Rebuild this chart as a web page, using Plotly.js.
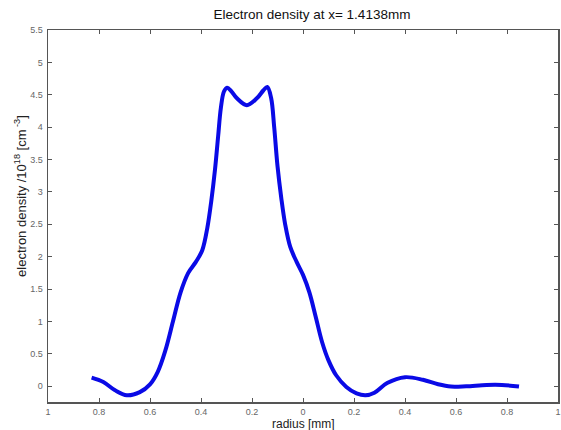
<!DOCTYPE html>
<html>
<head>
<meta charset="utf-8">
<script src="https://cdn.plot.ly/plotly-3.0.1.min.js"></script>
<style>html,body{margin:0;padding:0;background:#fff;}#chart{width:561px;height:430px;}</style>
</head>
<body>
<div id="chart"></div>
<script>
// radius [mm] (signed), electron density /1e18 cm^-3
const radius = [-0.829, -0.783, -0.737, -0.691, -0.64, -0.60, -0.57, -0.54, -0.51, -0.48, -0.45, -0.42, -0.395, -0.375, -0.36, -0.345, -0.333, -0.322, -0.31, -0.298, -0.28, -0.26, -0.22, -0.18, -0.155, -0.14, -0.125, -0.113, -0.10, -0.085, -0.07, -0.05, -0.025, 0.0, 0.025, 0.05, 0.075, 0.10, 0.13, 0.17, 0.21, 0.245, 0.28, 0.33, 0.40, 0.47, 0.53, 0.58, 0.64, 0.72, 0.78, 0.847];
const density = [0.134, 0.066, -0.062, -0.139, -0.09, 0.03, 0.22, 0.55, 1.0, 1.45, 1.75, 1.92, 2.1, 2.45, 2.85, 3.35, 3.85, 4.3, 4.55, 4.61, 4.55, 4.45, 4.34, 4.45, 4.57, 4.62, 4.45, 4.0, 3.4, 2.9, 2.5, 2.15, 1.92, 1.72, 1.45, 1.07, 0.68, 0.40, 0.17, -0.01, -0.11, -0.14, -0.10, 0.05, 0.14, 0.10, 0.03, -0.005, 0.0, 0.02, 0.02, -0.005];
const xTickVals = [-1, -0.8, -0.6, -0.4, -0.2, 0, 0.2, 0.4, 0.6, 0.8, 1];
const xTickText = ["1", "0.8", "0.6", "0.4", "0.2", "0", "0.2", "0.4", "0.6", "0.8", "1"];
const yTickVals = [0, 0.5, 1, 1.5, 2, 2.5, 3, 3.5, 4, 4.5, 5, 5.5];
const yTickText = ["0", "0.5", "1", "1.5", "2", "2.5", "3", "3.5", "4", "4.5", "5", "5.5"];

const trace = {
  x: radius, y: density, type: 'scatter', mode: 'lines',
  line: {color: '#0a0ae6', width: 4, shape: 'spline', smoothing: 1},
  hoverinfo: 'skip'
};
const axisCommon = {
  showgrid: false, zeroline: false, showline: true, linecolor: '#555', linewidth: 1.5,
  mirror: 'ticks', ticks: 'inside', ticklen: 4, tickcolor: '#555',
  tickfont: {family: 'Liberation Sans, Arial, sans-serif', size: 9, color: '#666'}
};
const layout = {
  width: 561, height: 430,
  margin: {l: 48, r: 3, t: 30, b: 28},
  paper_bgcolor: '#fff', plot_bgcolor: '#fff',
  showlegend: false,
  font: {family: 'Liberation Sans, Arial, sans-serif', color: '#222'},
  title: {text: 'Electron density at x= 1.4138mm', font: {size: 13.5, color: '#111'}, x: 0.556, xanchor: 'center', y: 0.966, yanchor: 'middle'},
  xaxis: Object.assign({}, axisCommon, {range: [-1, 1], tickmode: 'array', tickvals: xTickVals, ticktext: xTickText, ticklabelstandoff: 1}),
  yaxis: Object.assign({}, axisCommon, {range: [-0.243, 5.5], tickmode: 'array', tickvals: yTickVals, ticktext: yTickText, ticklabelstandoff: 2}),
  annotations: [
    {text: 'radius [mm]', xref: 'paper', yref: 'paper', x: 0.5, y: 0, yshift: -22, xanchor: 'center', yanchor: 'middle', showarrow: false, font: {size: 12, color: '#222'}},
    {text: 'electron density /10<sup>18</sup> [cm<sup> -3</sup>]', xref: 'paper', yref: 'paper', x: 0, xshift: -28, y: 0.554, textangle: -90, xanchor: 'center', yanchor: 'middle', showarrow: false, font: {size: 13, color: '#222'}}
  ]
};
Plotly.newPlot('chart', [trace], layout, {staticPlot: true});
</script>
</body>
</html>
